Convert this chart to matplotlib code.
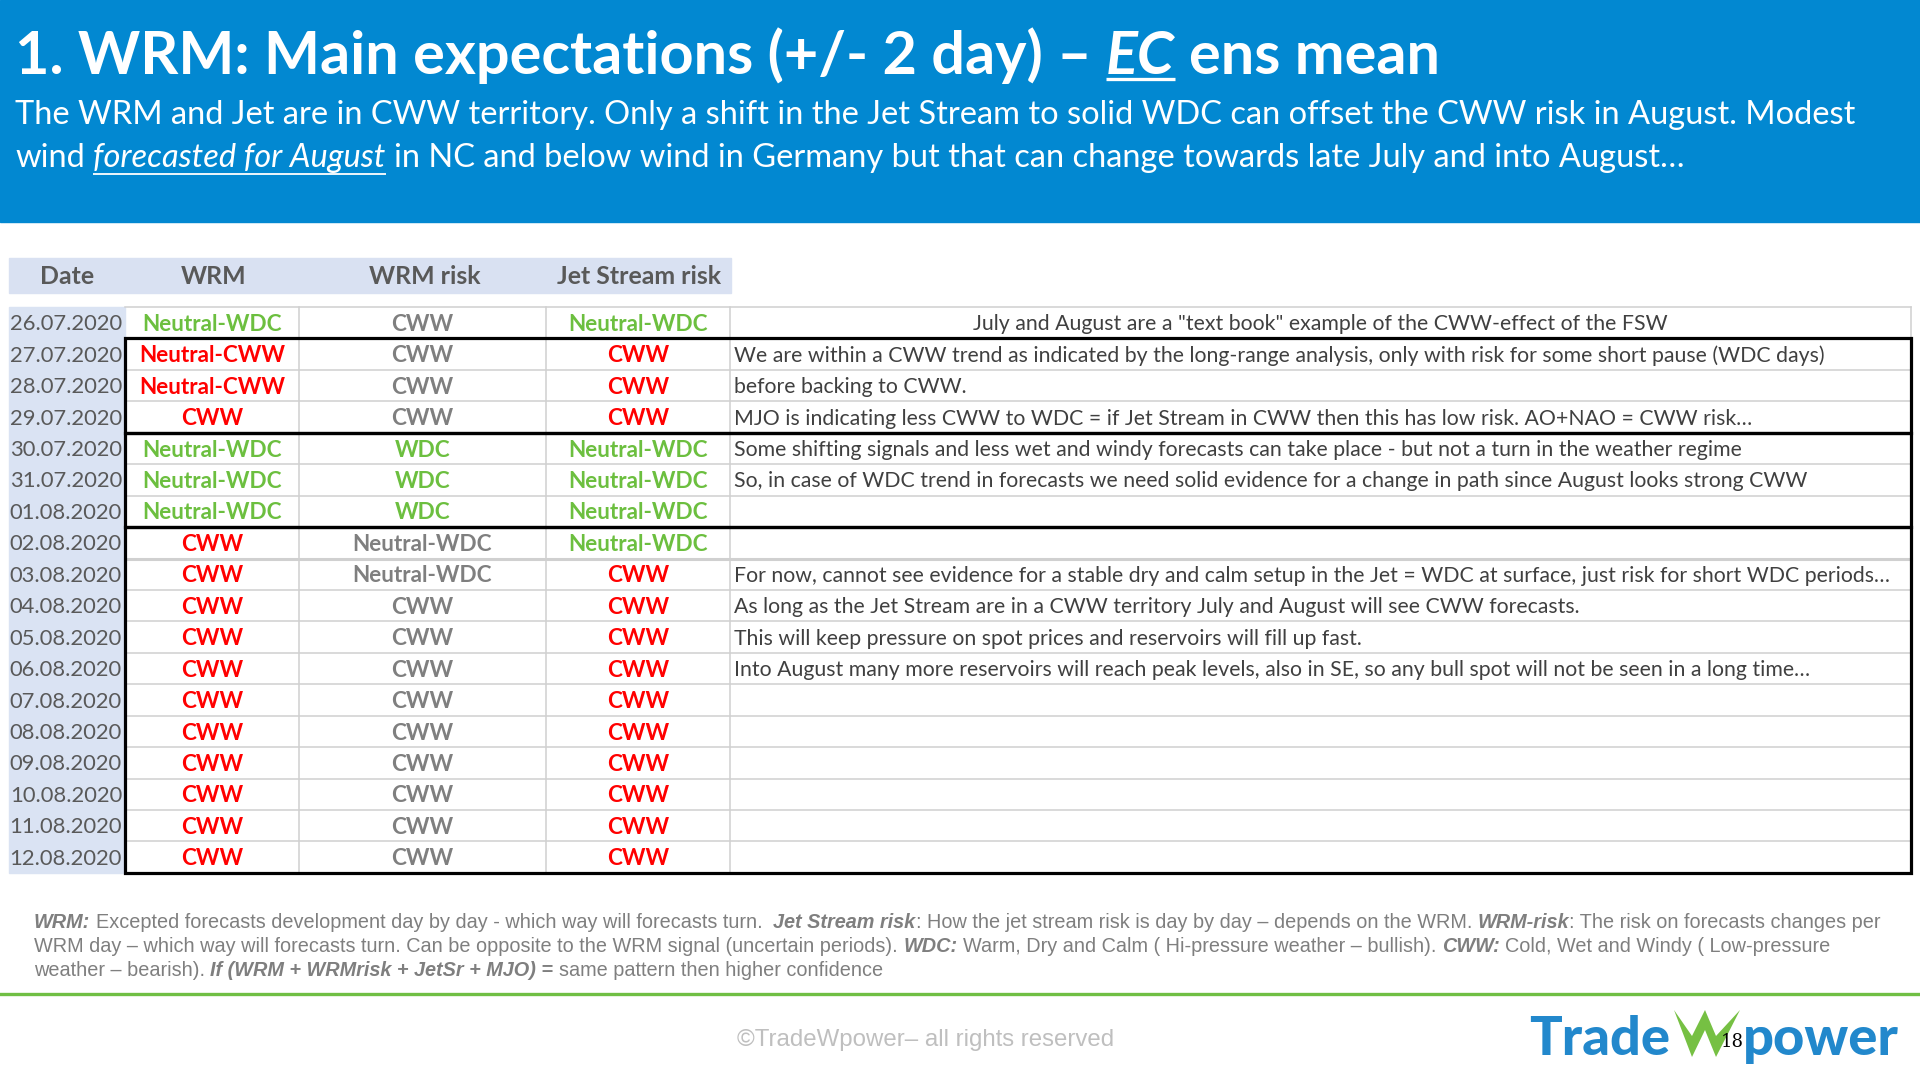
import matplotlib
matplotlib.use("Agg")
import matplotlib.pyplot as plt
from matplotlib.patches import Rectangle, Polygon

# ---- data -------------------------------------------------------------
headers = ["Date", "WRM", "WRM risk", "Jet Stream risk"]

dates = ["26.07.2020", "27.07.2020", "28.07.2020", "29.07.2020", "30.07.2020",
         "31.07.2020", "01.08.2020", "02.08.2020", "03.08.2020", "04.08.2020",
         "05.08.2020", "06.08.2020", "07.08.2020", "08.08.2020", "09.08.2020",
         "10.08.2020", "11.08.2020", "12.08.2020"]

wrm = ["Neutral-WDC", "Neutral-CWW", "Neutral-CWW", "CWW", "Neutral-WDC",
       "Neutral-WDC", "Neutral-WDC", "CWW", "CWW", "CWW", "CWW", "CWW",
       "CWW", "CWW", "CWW", "CWW", "CWW", "CWW"]

wrm_risk = ["CWW", "CWW", "CWW", "CWW", "WDC", "WDC", "WDC", "Neutral-WDC",
            "Neutral-WDC", "CWW", "CWW", "CWW", "CWW", "CWW", "CWW", "CWW",
            "CWW", "CWW"]

jet_risk = ["Neutral-WDC", "CWW", "CWW", "CWW", "Neutral-WDC", "Neutral-WDC",
            "Neutral-WDC", "Neutral-WDC", "CWW", "CWW", "CWW", "CWW", "CWW",
            "CWW", "CWW", "CWW", "CWW", "CWW"]

comments = [
    'July and August are a "text book" example of the CWW-effect of the FSW',
    "We are within a CWW trend as indicated by the long-range analysis, only with risk for some short pause (WDC days)",
    "before backing to CWW.",
    "MJO is indicating less CWW to WDC = if Jet Stream in CWW then this has low risk. AO+NAO = CWW risk\u2026",
    "Some shifting signals and less wet and windy forecasts can take place - but not a turn in the weather regime",
    "So, in case of WDC trend in forecasts we need solid evidence for a change in path since August looks strong CWW",
    "",
    "",
    "For now, cannot see evidence for a stable dry and calm setup in the Jet = WDC at surface, just risk for short WDC periods\u2026",
    "As long as the Jet Stream are in a CWW territory July and August will see CWW forecasts.",
    "This will keep pressure on spot prices and reservoirs will fill up fast.",
    "Into August many more reservoirs will reach peak levels, also in SE, so any bull spot will not be seen in a long time\u2026",
    "", "", "", "", "", "",
]

# row groups framed with a thick black border (first row, last row)
groups = [(1, 3), (4, 6), (7, 17)]

# ---- styles -----------------------------------------------------------
BLUE = "#0288D1"
GREEN = "#6CBF3F"
RED = "#FF0000"
GRAY = "#7F7F7F"
DARK = "#595959"
FONT = "Lato"

wrm_colors = {"Neutral-WDC": GREEN, "Neutral-CWW": RED, "CWW": RED}
risk_colors = {"CWW": GRAY, "WDC": GREEN, "Neutral-WDC": GRAY}
jet_colors = {"Neutral-WDC": GREEN, "CWW": RED}

W, H = 1920, 1080
fig = plt.figure(figsize=(19.2, 10.8), dpi=100)
ax = fig.add_axes([0, 0, 1, 1])
ax.set_xlim(0, W)
ax.set_ylim(H, 0)
ax.axis("off")
renderer = fig.canvas.get_renderer()


def text_width(s, **kw):
    if not s:
        return 0.0
    t = ax.text(0, 0, "x" + s + "x", **kw)
    w1 = t.get_window_extent(renderer).width
    t.set_text("xx")
    w2 = t.get_window_extent(renderer).width
    t.remove()
    return w1 - w2


def run_kw(st, size, family, color):
    return dict(fontsize=size, family=family,
                fontweight=st.get("weight", "normal"),
                fontstyle=st.get("style", "normal"),
                color=st.get("color", color))


def fit_size(runs, target, family, size0=20):
    w = sum(text_width(s, **run_kw(st, size0, family, "k")) for s, st in runs)
    return size0 * target / w


def draw_runs(x, y, runs, size, family, color, ul_off=6):
    for s, st in runs:
        kw = run_kw(st, size, family, color)
        lead = len(s) - len(s.lstrip())
        xd = x + text_width(s[:lead], **kw)
        core = s.strip()
        ax.text(xd, y, core, ha="left", va="baseline", **kw)
        if st.get("underline"):
            wc = text_width(core, **kw)
            ax.plot([xd, xd + wc], [y + ul_off, y + ul_off], color=kw["color"],
                    lw=size / 18, solid_capstyle="butt")
        x += text_width(s, **kw)
    return x


# ---- banner -----------------------------------------------------------
ax.add_patch(Rectangle((0, 0), W, 222, color=BLUE, zorder=0))

title = [("1. WRM: Main expectations (+/- 2 day) \u2013 ", {"weight": "bold"}),
         ("EC", {"weight": "bold", "style": "italic", "underline": True}),
         (" ens mean", {"weight": "bold"})]
ts = fit_size(title, 1425, FONT)
draw_runs(15, 74, title, ts, FONT, "white", ul_off=5)

sub1 = [("The WRM and Jet are in CWW territory. Only a shift in the Jet Stream to solid WDC "
         "can offset the CWW risk in August. Modest", {})]
sub2 = [("wind ", {}),
        ("forecasted for August", {"style": "italic", "underline": True}),
        (" in NC and below wind in Germany but that can change towards late July and into August\u2026", {})]
ss = fit_size(sub1, 1844, FONT)
draw_runs(15, 124, sub1, ss, FONT, "white")
draw_runs(15, 167, sub2, ss, FONT, "white", ul_off=7)

# ---- table ------------------------------------------------------------
x_edges = [9, 125, 299, 546, 730, 1911]
top = 307
rh = 31.44
n = len(dates)
bottom = top + n * rh

ax.add_patch(Rectangle((9, 258), 722, 35, color="#D9E1F2", zorder=0))
ax.add_patch(Rectangle((9, top), 116, n * rh, color="#DAE3F3", zorder=0))

hs = fit_size([("Jet Stream risk", {"weight": "bold"})], 164, FONT)
hx = [67, 214, 425, 639]
for h, xc in zip(headers, hx):
    ax.text(xc, 276, h, ha="center", va="center", fontsize=hs, family=FONT,
            fontweight="bold", color=DARK)

grid = "#D0D0D0"
for i in range(n + 1):
    y = top + i * rh
    lw = 2.2 if i == 8 else 1.1
    ax.plot([125, 1911], [y, y], color=grid, lw=lw, zorder=1)
for xv in x_edges[2:]:
    ax.plot([xv, xv], [top, bottom], color=grid, lw=1.1, zorder=1)

for r0, r1 in groups:
    y0 = top + r0 * rh
    y1 = top + (r1 + 1) * rh
    ax.add_patch(Rectangle((125, y0), 1911 - 125, y1 - y0, fill=False,
                           ec="black", lw=2.3, zorder=3))

ds = fit_size([("26.07.2020", {})], 112, FONT)
cs = fit_size([("Neutral-WDC", {"weight": "bold"})], 140, FONT)
ms = fit_size([(comments[9], {})], 846, FONT)

for i in range(n):
    yc = top + (i + 0.55) * rh
    ax.text(122, yc, dates[i], ha="right", va="center", fontsize=ds,
            family=FONT, color=DARK, zorder=4)
    for col, vals, cmap in [(1, wrm, wrm_colors), (2, wrm_risk, risk_colors),
                            (3, jet_risk, jet_colors)]:
        xc = (x_edges[col] + x_edges[col + 1]) / 2
        ax.text(xc, yc, vals[i], ha="center", va="center", fontsize=cs,
                family=FONT, fontweight="bold", color=cmap[vals[i]], zorder=4)
    if comments[i]:
        if i == 0:
            ax.text((730 + 1911) / 2, yc, comments[i], ha="center", va="center",
                    fontsize=ms, family=FONT, color="#404040", zorder=4)
        else:
            ax.text(734, yc, comments[i], ha="left", va="center",
                    fontsize=ms, family=FONT, color="#404040", zorder=4)

# ---- footnote ---------------------------------------------------------
BI = {"weight": "bold", "style": "italic"}
FF = "Liberation Sans"
foot1 = [("WRM:", BI),
         (" Excepted forecasts development day by day - which way will forecasts turn.  ", {}),
         ("Jet Stream risk", BI),
         (": How the jet stream risk is day by day \u2013 depends on the WRM. ", {}),
         ("WRM-risk", BI),
         (": The risk on forecasts changes per", {})]
foot2 = [("WRM day \u2013 which way will forecasts turn. Can be opposite to the WRM signal (uncertain periods). ", {}),
         ("WDC:", BI),
         (" Warm, Dry and Calm ( Hi-pressure weather \u2013 bullish). ", {}),
         ("CWW:", BI),
         (" Cold, Wet and Windy ( Low-pressure", {})]
foot3 = [("weather \u2013 bearish). ", {}),
         ("If (WRM + WRMrisk + JetSr + MJO) =", BI),
         (" same pattern then higher confidence", {})]
fs = fit_size(foot1, 1839, FF)
for runs, yb in [(foot1, 928), (foot2, 952), (foot3, 976)]:
    draw_runs(34, yb, runs, fs, FF, GRAY)

ax.plot([0, W], [994, 994], color="#70BF44", lw=2.4)

cps = fit_size([("\u00a9TradeWpower\u2013 all rights reserved", {})], 376, FF)
ax.text(926, 1040, "\u00a9TradeWpower\u2013 all rights reserved", ha="center",
        va="center", fontsize=cps, family=FF, color="#BFBFBF")

# ---- logo -------------------------------------------------------------
LB = "#2288CC"
LW = {"weight": "black"}
lsz = fit_size([("Trade", LW)], 141, FONT)
draw_runs(1529, 1055, [("Trade", LW)], lsz, FONT, LB)
draw_runs(1743, 1055, [("power", LW)], lsz, FONT, LB)
w_shape = [(1674, 1010), (1692, 1057), (1705, 1030), (1716, 1057),
           (1740, 1010), (1716, 1036), (1705, 1010), (1692, 1036)]
ax.add_patch(Polygon(w_shape, closed=True, color="#76C043", lw=0, zorder=2))
ax.text(1732, 1042, "18", ha="center", va="center", fontsize=13,
        family="DejaVu Serif", color="black", zorder=3)

fig.savefig("out.png", dpi=100)
